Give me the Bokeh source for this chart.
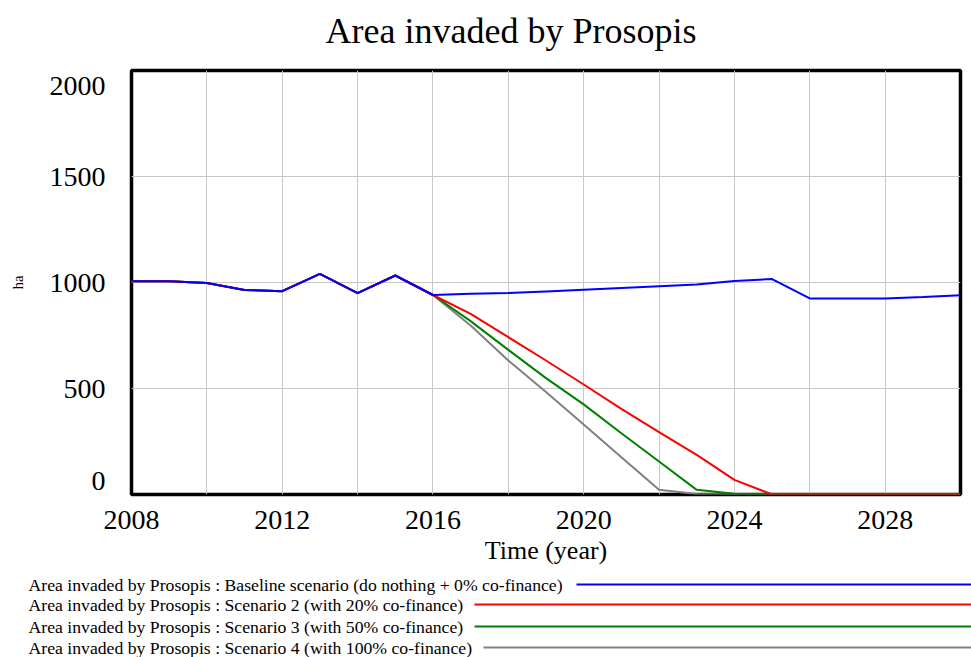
from bokeh.plotting import figure
from bokeh.models import Range1d, FixedTicker
from bokeh.embed import file_html
from bokeh.resources import INLINE

# ---------------- data ----------------
years = list(range(2008, 2031))
baseline = [1006, 1006, 998, 965, 959, 1041, 950, 1033, 941, 947, 950, 958, 966,
            974, 982, 990, 1007, 1016, 925, 925, 925, 932, 940]
scenario2 = [1006, 1006, 998, 965, 959, 1041, 950, 1033, 941, 852, 742, 632, 519,
             404, 294, 187, 69, 0, 0, 0, 0, 0, 0]
scenario3 = [1006, 1006, 998, 965, 959, 1041, 950, 1033, 941, 818, 682, 549, 425,
             289, 156, 22, 3, 0, 0, 0, 0, 0, 0]
scenario4 = [1006, 1006, 998, 965, 959, 1041, 950, 1033, 941, 797, 632, 483, 330,
             176, 22, 2, 0, 0, 0, 0, 0, 0, 0]

series_names = [
    "Area invaded by Prosopis : Baseline scenario (do nothing + 0% co-finance)",
    "Area invaded by Prosopis : Scenario 2 (with 20% co-finance)",
    "Area invaded by Prosopis : Scenario 3 (with 50% co-finance)",
    "Area invaded by Prosopis : Scenario 4 (with 100% co-finance)",
]
series_values = [baseline, scenario2, scenario3, scenario4]
series_colors = ["#0000ff", "#ff0000", "#008000", "#808080"]

title_text = "Area invaded by Prosopis"
x_label_ticks = [2008, 2012, 2016, 2020, 2024, 2028]
x_grid_ticks = list(range(2008, 2031, 2))
y_grid_ticks = [0, 500, 1000, 1500, 2000]
y_tick_labels = ["0", "500", "1000", "1500", "2000"]
# the end labels sit slightly inside the frame, as in the reference
y_label_pos = [66, 500, 1000, 1500, 1925]

FONT = "Liberation Serif"
W = 971
H0 = 52          # title strip
H1 = 524         # chart
H2 = 81          # legend strip


def blank_strip(h):
    f = figure(width=W, height=h, x_range=Range1d(0, W), y_range=Range1d(h, 0),
               output_backend="svg", toolbar_location=None,
               x_axis_type=None, y_axis_type=None,
               min_border_left=0, min_border_right=0, min_border_top=0, min_border_bottom=0)
    f.outline_line_color = None
    f.xgrid.visible = False
    f.ygrid.visible = False
    return f


# ---------------- title strip ----------------
tt = blank_strip(H0)
tt.text(x=[325], y=[30], text=[title_text], text_font_size="36px",
        text_baseline="middle", text_align="left", text_color="black",
        text_font={"value": FONT})

# ---------------- chart ----------------
p = figure(width=W, height=H1, x_range=Range1d(2008, 2030), y_range=Range1d(0, 2000),
           output_backend="svg", toolbar_location=None,
           min_border_left=131, min_border_right=11, min_border_top=70 - H0,
           min_border_bottom=H0 + H1 - 494)

p.outline_line_color = "black"
p.outline_line_width = 3.5
p.outline_line_alpha = 1.0

for ax in (p.xaxis[0], p.yaxis[0]):
    ax.axis_line_color = None
    ax.major_tick_line_color = None
    ax.minor_tick_line_color = None
    ax.major_label_text_font = FONT
    ax.major_label_text_font_size = "28px"
    ax.major_label_text_color = "black"
    ax.axis_label_text_font = FONT
    ax.axis_label_text_font_style = "normal"
    ax.axis_label_text_color = "black"

p.xaxis.ticker = FixedTicker(ticks=x_label_ticks)
p.xaxis.major_label_standoff = 10
p.xaxis.axis_label = "Time (year)"
p.xaxis.axis_label_text_font_size = "26px"
p.xaxis.axis_label_standoff = 4

p.yaxis.ticker = FixedTicker(ticks=y_label_pos)
p.yaxis.major_label_overrides = {pos: lab for pos, lab in zip(y_label_pos, y_tick_labels)}
p.yaxis.major_label_standoff = 20
p.yaxis.axis_label = "ha"
p.yaxis.axis_label_text_font_size = "15px"
p.yaxis.axis_label_standoff = 21

p.xgrid.ticker = FixedTicker(ticks=x_grid_ticks)
p.ygrid.ticker = FixedTicker(ticks=y_grid_ticks)
p.xgrid.grid_line_color = "#c8c8c8"
p.ygrid.grid_line_color = "#c8c8c8"
p.xgrid.grid_line_width = 1
p.ygrid.grid_line_width = 1

# draw order: gray, green, red, blue (blue on top)
for vals, col in reversed(list(zip(series_values, series_colors))):
    p.line(years, vals, line_color=col, line_width=2)

# ---------------- legend strip ----------------
lg = blank_strip(H2)
row_y = [8, 28, 50, 71]
line_start = [576, 474, 474, 483]
text_x = [28] * 4
lg.text(x=text_x, y=row_y, text=series_names, text_font_size="17.7px",
        text_baseline="middle", text_align="left", text_color="black",
        text_font={"value": FONT})
lg.segment(x0=line_start, y0=row_y, x1=[W] * 4, y1=row_y,
           line_color=series_colors, line_width=2)

open("out.html", "w").write(file_html([tt, p, lg], INLINE))
